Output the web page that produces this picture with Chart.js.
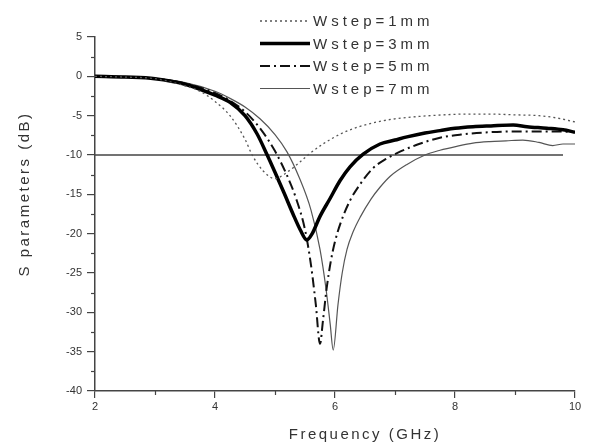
<!DOCTYPE html>
<html>
<head>
<meta charset="utf-8">
<script src="https://cdn.jsdelivr.net/npm/chart.js@4.4.1/dist/chart.umd.min.js"></script>
<style>
  body { margin: 0; background: #fff; }
</style>
</head>
<body>
<canvas id="grafico" width="590" height="445"></canvas>
<script>
// datos (GHz, dB)
const freq1 = [2, 2.5, 3, 3.5, 3.75, 4, 4.25, 4.5, 4.62, 4.8, 5.0, 5.2, 5.4, 5.55, 5.8, 6.1, 6.4, 6.7, 7.0, 7.4, 7.8, 8.2, 8.6, 9.0, 9.4, 9.7, 10];
const s1 = [0, -0.1, -0.3, -1.2, -1.9, -3.2, -5.0, -8.0, -10, -12.0, -13.0, -12.2, -11.0, -10, -8.6, -7.3, -6.4, -5.8, -5.4, -5.1, -4.9, -4.8, -4.8, -4.9, -5.0, -5.3, -5.8];

const freq3 = [2, 2.5, 3, 3.5, 4, 4.25, 4.5, 4.7, 4.87, 5.0, 5.15, 5.3, 5.42, 5.53, 5.62, 5.75, 5.92, 6.08, 6.25, 6.47, 6.75, 7.0, 7.2, 7.5, 7.75, 8.0, 8.3, 8.6, 8.97, 9.2, 9.53, 9.8, 10];
const s3 = [0, -0.1, -0.3, -1.0, -2.4, -3.3, -5.0, -7.3, -10, -12.2, -14.8, -17.5, -19.5, -20.8, -20.0, -17.8, -15.5, -13.3, -11.5, -9.9, -8.6, -8.1, -7.7, -7.2, -6.9, -6.6, -6.4, -6.3, -6.2, -6.4, -6.6, -6.8, -7.1];

const freq5 = [2, 3, 3.5, 4, 4.25, 4.5, 4.75, 5.0, 5.2, 5.35, 5.5, 5.6, 5.68, 5.75, 5.8, 5.86, 5.93, 6.0, 6.1, 6.25, 6.42, 6.63, 6.85, 7.05, 7.4, 7.75, 8.1, 8.58, 9.0, 9.42, 9.7, 10];
const s5 = [0, -0.3, -0.9, -2.1, -3.1, -4.5, -6.6, -9.5, -12.6, -15.5, -19.5, -24, -29, -34, -31, -27, -23.5, -21, -18.5, -15.8, -13.7, -11.7, -10.5, -9.7, -8.6, -7.8, -7.4, -7.1, -7.0, -7.0, -7.0, -7.1];

const freq7 = [2, 3, 3.5, 4, 4.25, 4.5, 4.75, 5.0, 5.2, 5.4, 5.6, 5.75, 5.85, 5.92, 5.97, 6.05, 6.12, 6.2, 6.3, 6.42, 6.6, 6.75, 6.92, 7.2, 7.5, 7.75, 8.03, 8.3, 8.58, 8.85, 9.13, 9.4, 9.63, 9.8, 10];
const s7 = [0, -0.3, -0.8, -1.9, -2.8, -3.9, -5.4, -7.4, -9.6, -12.8, -17.0, -22, -27, -31.5, -34.8, -29, -25, -22, -19.8, -17.9, -15.6, -14.1, -12.7, -11.2, -10.0, -9.4, -8.9, -8.5, -8.3, -8.2, -8.1, -8.4, -8.8, -8.6, -8.6];

const lineaRefX = [2, 9.8];
const lineaRefY = [-10, -10];

const etiquetas = ['Wstep=1mm', 'Wstep=3mm', 'Wstep=5mm', 'Wstep=7mm'];
const xTicksMenores = [3, 5, 7, 9];
const yTicksMenores = [2.5, -2.5, -7.5, -12.5, -17.5, -22.5, -27.5, -32.5, -37.5];

const fuente = 'Liberation Sans, Arial, sans-serif';
const gris = '#333';

function puntos(xs, ys) {
    return xs.map((x, i) => ({ x: x, y: ys[i] }));
}

// leyenda, titulos y ticks menores dibujados a mano
const extras = {
    id: 'extras',
    afterDraw(chart) {
        const ctx = chart.ctx;
        const xs = chart.scales.x;
        const ys = chart.scales.y;

        ctx.save();
        ctx.strokeStyle = '#444';
        ctx.lineWidth = 1.2;
        xTicksMenores.forEach(v => {
            const px = Math.round(xs.getPixelForValue(v)) + 0.5;
            ctx.beginPath();
            ctx.moveTo(px, xs.top);
            ctx.lineTo(px, xs.top + 4);
            ctx.stroke();
        });
        yTicksMenores.forEach(v => {
            const py = Math.round(ys.getPixelForValue(v)) + 0.5;
            ctx.beginPath();
            ctx.moveTo(ys.right, py);
            ctx.lineTo(ys.right - 4, py);
            ctx.stroke();
        });

        // titulos de ejes
        ctx.fillStyle = gris;
        ctx.font = '15px ' + fuente;
        ctx.letterSpacing = '2.5px';
        ctx.textAlign = 'center';
        ctx.textBaseline = 'middle';
        ctx.fillText('Frequency (GHz)', 365, 435);
        ctx.save();
        ctx.translate(25, 194);
        ctx.rotate(-Math.PI / 2);
        ctx.fillText('S parameters (dB)', 0, 0);
        ctx.restore();

        // leyenda
        ctx.font = '15px ' + fuente;
        ctx.letterSpacing = '4px';
        ctx.textAlign = 'left';
        chart.data.datasets.forEach((ds, i) => {
            if (!ds.label) return;
            const y = 21 + i * 22.5;
            ctx.save();
            ctx.strokeStyle = ds.borderColor;
            ctx.lineWidth = ds.borderWidth;
            ctx.setLineDash(ds.borderDash || []);
            ctx.beginPath();
            ctx.moveTo(260, y);
            ctx.lineTo(310, y);
            ctx.stroke();
            ctx.restore();
            ctx.fillStyle = gris;
            ctx.fillText(ds.label, 313, y + 1);
        });
        ctx.restore();
    }
};

const ctx = document.getElementById('grafico').getContext('2d');
new Chart(ctx, {
    type: 'line',
    data: {
        datasets: [
            {
                label: etiquetas[0],
                data: puntos(freq1, s1),
                borderColor: '#555',
                borderWidth: 1.3,
                borderDash: [2, 3]
            },
            {
                label: etiquetas[1],
                data: puntos(freq3, s3),
                borderColor: '#000',
                borderWidth: 3.5
            },
            {
                label: etiquetas[2],
                data: puntos(freq5, s5),
                borderColor: '#111',
                borderWidth: 2,
                borderDash: [10, 4, 2, 4]
            },
            {
                label: etiquetas[3],
                data: puntos(freq7, s7),
                borderColor: '#555',
                borderWidth: 1.2
            },
            {
                label: '',
                data: puntos(lineaRefX, lineaRefY),
                borderColor: '#444',
                borderWidth: 1.5
            }
        ]
    },
    options: {
        responsive: false,
        animation: false,
        cubicInterpolationMode: 'monotone',
        elements: { point: { radius: 0 } },
        layout: { padding: { top: 37, right: 15, left: 0, bottom: 0 } },
        plugins: {
            legend: { display: false },
            tooltip: { enabled: false }
        },
        scales: {
            x: {
                type: 'linear',
                min: 2,
                max: 10,
                afterFit: s => { s.height = 54; },
                ticks: {
                    stepSize: 2,
                    color: gris,
                    padding: 2,
                    font: { family: fuente, size: 11 }
                },
                grid: { drawOnChartArea: false, tickLength: 7, color: '#444', lineWidth: 1.2 },
                border: { color: '#444', width: 1.5 }
            },
            y: {
                min: -40,
                max: 5,
                afterFit: s => { s.width = 95; },
                ticks: {
                    stepSize: 5,
                    color: gris,
                    padding: 5,
                    font: { family: fuente, size: 11 }
                },
                grid: { drawOnChartArea: false, tickLength: 8, color: '#444', lineWidth: 1.2 },
                border: { color: '#444', width: 1.5 }
            }
        }
    },
    plugins: [extras]
});
</script>
</body>
</html>
